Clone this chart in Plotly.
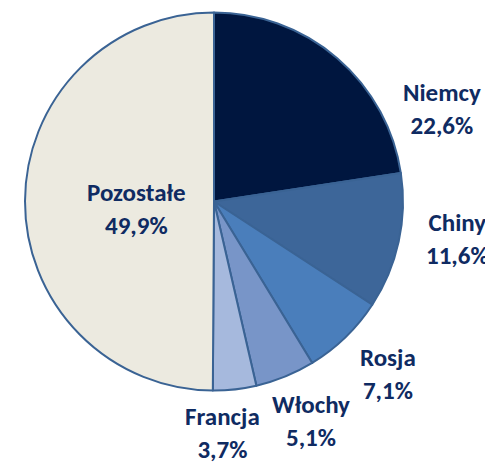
import plotly.graph_objects as go

# Data
kraje = ["Niemcy", "Chiny", "Rosja", "Włochy", "Francja", "Pozostałe"]
udzialy = [22.6, 11.6, 7.1, 5.1, 3.7, 49.9]
kolory = ["#00163F", "#3D6699", "#4A7EBB", "#7895C8", "#A6B9DD", "#ECEAE0"]

# page body has an 8px margin, so the figure is a bit smaller and shifted
OFF = 8
W, H = 493 - OFF, 464 - OFF
# label centres in window pixels (x, y from top)
label_pos = [(442, 109), (457, 239), (388, 374), (311, 421), (222, 433), (136, 209)]


def px(x):
    return (x - OFF) / W


def py(y):
    return 1 - (y - OFF) / H


fig = go.Figure(go.Pie(
    labels=kraje,
    values=udzialy,
    sort=False,
    direction="clockwise",
    rotation=0,
    marker=dict(colors=kolory, line=dict(color="#3A6394", width=2)),
    textinfo="none",
    hoverinfo="label+percent",
    domain=dict(x=[px(25), px(403)], y=[py(391), py(12)]),
    showlegend=False,
))

for k, u, (x, y) in zip(kraje, udzialy, label_pos):
    txt = "<b>%s</b><br><b>%s%%</b>" % (k, ("%.1f" % u).replace(".", ","))
    fig.add_annotation(
        x=px(x), y=py(y), xref="paper", yref="paper",
        text=txt, showarrow=False, xanchor="center", yanchor="middle",
        font=dict(family="Carlito, Lato, sans-serif", size=25, color="#0F2B62"),
    )

fig.update_layout(
    width=W, height=H,
    margin=dict(l=0, r=0, t=0, b=0),
    paper_bgcolor="white",
    plot_bgcolor="white",
)

fig.write_html("out.html")
